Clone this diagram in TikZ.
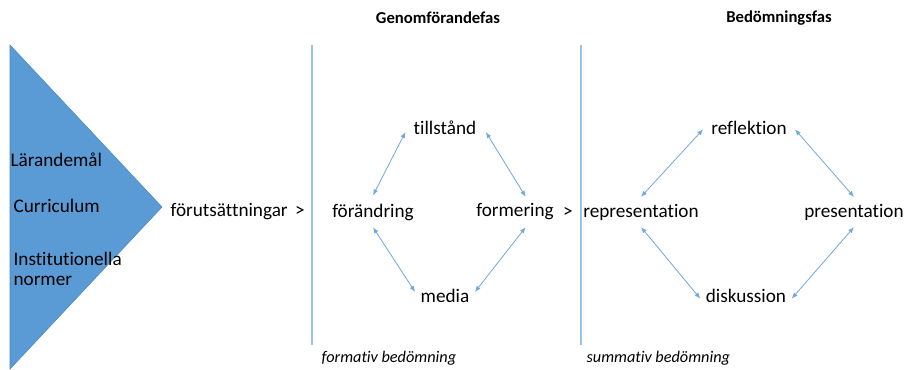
\documentclass[tikz,border=0pt]{standalone}
\usepackage{fontspec}
\setmainfont[Ligatures=NoCommon]{Carlito}
\definecolor{wedgeblue}{HTML}{5B9BD5}
\definecolor{wedgeedge}{HTML}{4A86C0}
\definecolor{arrowblue}{HTML}{6FA8DC}
\definecolor{ruleblue}{HTML}{9DC3E6}
\usetikzlibrary{arrows.meta}
\begin{document}
\begin{tikzpicture}[x=0.75pt,y=-0.75pt,
  word/.style={inner sep=1pt, font=\fontsize{14.4}{15.5}\selectfont},
  head/.style={inner sep=1pt, font=\fontsize{12.5}{14}\selectfont\bfseries},
  note/.style={inner sep=1pt, anchor=west, font=\fontsize{12.2}{14}\selectfont\itshape},
  biarrow/.style={draw=arrowblue, line width=0.6pt, {Latex[length=4.5pt,width=3.5pt]}-{Latex[length=4.5pt,width=3.5pt]}}]
\useasboundingbox (0,0) rectangle (904,369);
% wedge
\fill[wedgeblue, draw=wedgeedge] (10,45) -- (162,207) -- (10,369) -- cycle;
\node[word, anchor=west] (mal) at (9,160) {Lärandemål};
\node[word, anchor=west] (curr) at (12,206) {Curriculum};
\node[word, anchor=west, align=left] (norm) at (12,269) {Institutionella\\normer};
\node[word, anchor=west] (forut) at (169,212) {förutsättningar \,>};
% phase rules
\coordinate (r1top) at (312,45);
\coordinate (r1bot) at (312,345);
\coordinate (r2top) at (581,45);
\coordinate (r2bot) at (581,345);
\draw[ruleblue, line width=0.8pt] (r1top) -- (r1bot);
\draw[ruleblue, line width=0.8pt] (r2top) -- (r2bot);
\node[head] (genom) at (438,18) {Genomförandefas};
\node[head] (bedom) at (779,18) {Bedömningsfas};
% genomforande
\node[word] (tillstand) at (445,128) {tillstånd};
\node[word] (forandring) at (373,212) {förändring};
\node[word] (formering) at (515,212) {formering};
\node[word] (gt) at (568,212) {>};
\node[word] (media) at (445,296) {media};
\draw[biarrow] ([xshift=-5pt,yshift=-3pt]tillstand.west) -- ([yshift=5pt]forandring.north);
\draw[biarrow] ([xshift=6pt,yshift=-3pt]tillstand.east) -- ([xshift=8pt,yshift=4pt]formering.north);
\draw[biarrow] ([yshift=-4pt]forandring.south) -- ([xshift=-3pt,yshift=3pt]media.west);
\draw[biarrow] ([xshift=8pt,yshift=-4pt]formering.south) -- ([xshift=3pt,yshift=3pt]media.east);
% bedomning
\node[word] (reflektion) at (749,128) {reflektion};
\node[word] (repr) at (641,212) {representation};
\node[word] (pres) at (854,212) {presentation};
\node[word] (disk) at (746,296) {diskussion};
\draw[biarrow] ([xshift=-5pt,yshift=-1pt]reflektion.west) -- ([yshift=4pt]repr.north);
\draw[biarrow] ([xshift=5pt,yshift=-1pt]reflektion.east) -- ([yshift=4pt]pres.north);
\draw[biarrow] ([yshift=-4pt]repr.south) -- ([xshift=-3pt,yshift=-2pt]disk.west);
\draw[biarrow] ([yshift=-4pt]pres.south) -- ([xshift=3pt,yshift=-2pt]disk.east);
% bottom notes
\node[note] (formativ) at (320,358) {formativ bedömning};
\node[note] (summativ) at (585,358) {summativ bedömning};
\end{tikzpicture}
\end{document}
